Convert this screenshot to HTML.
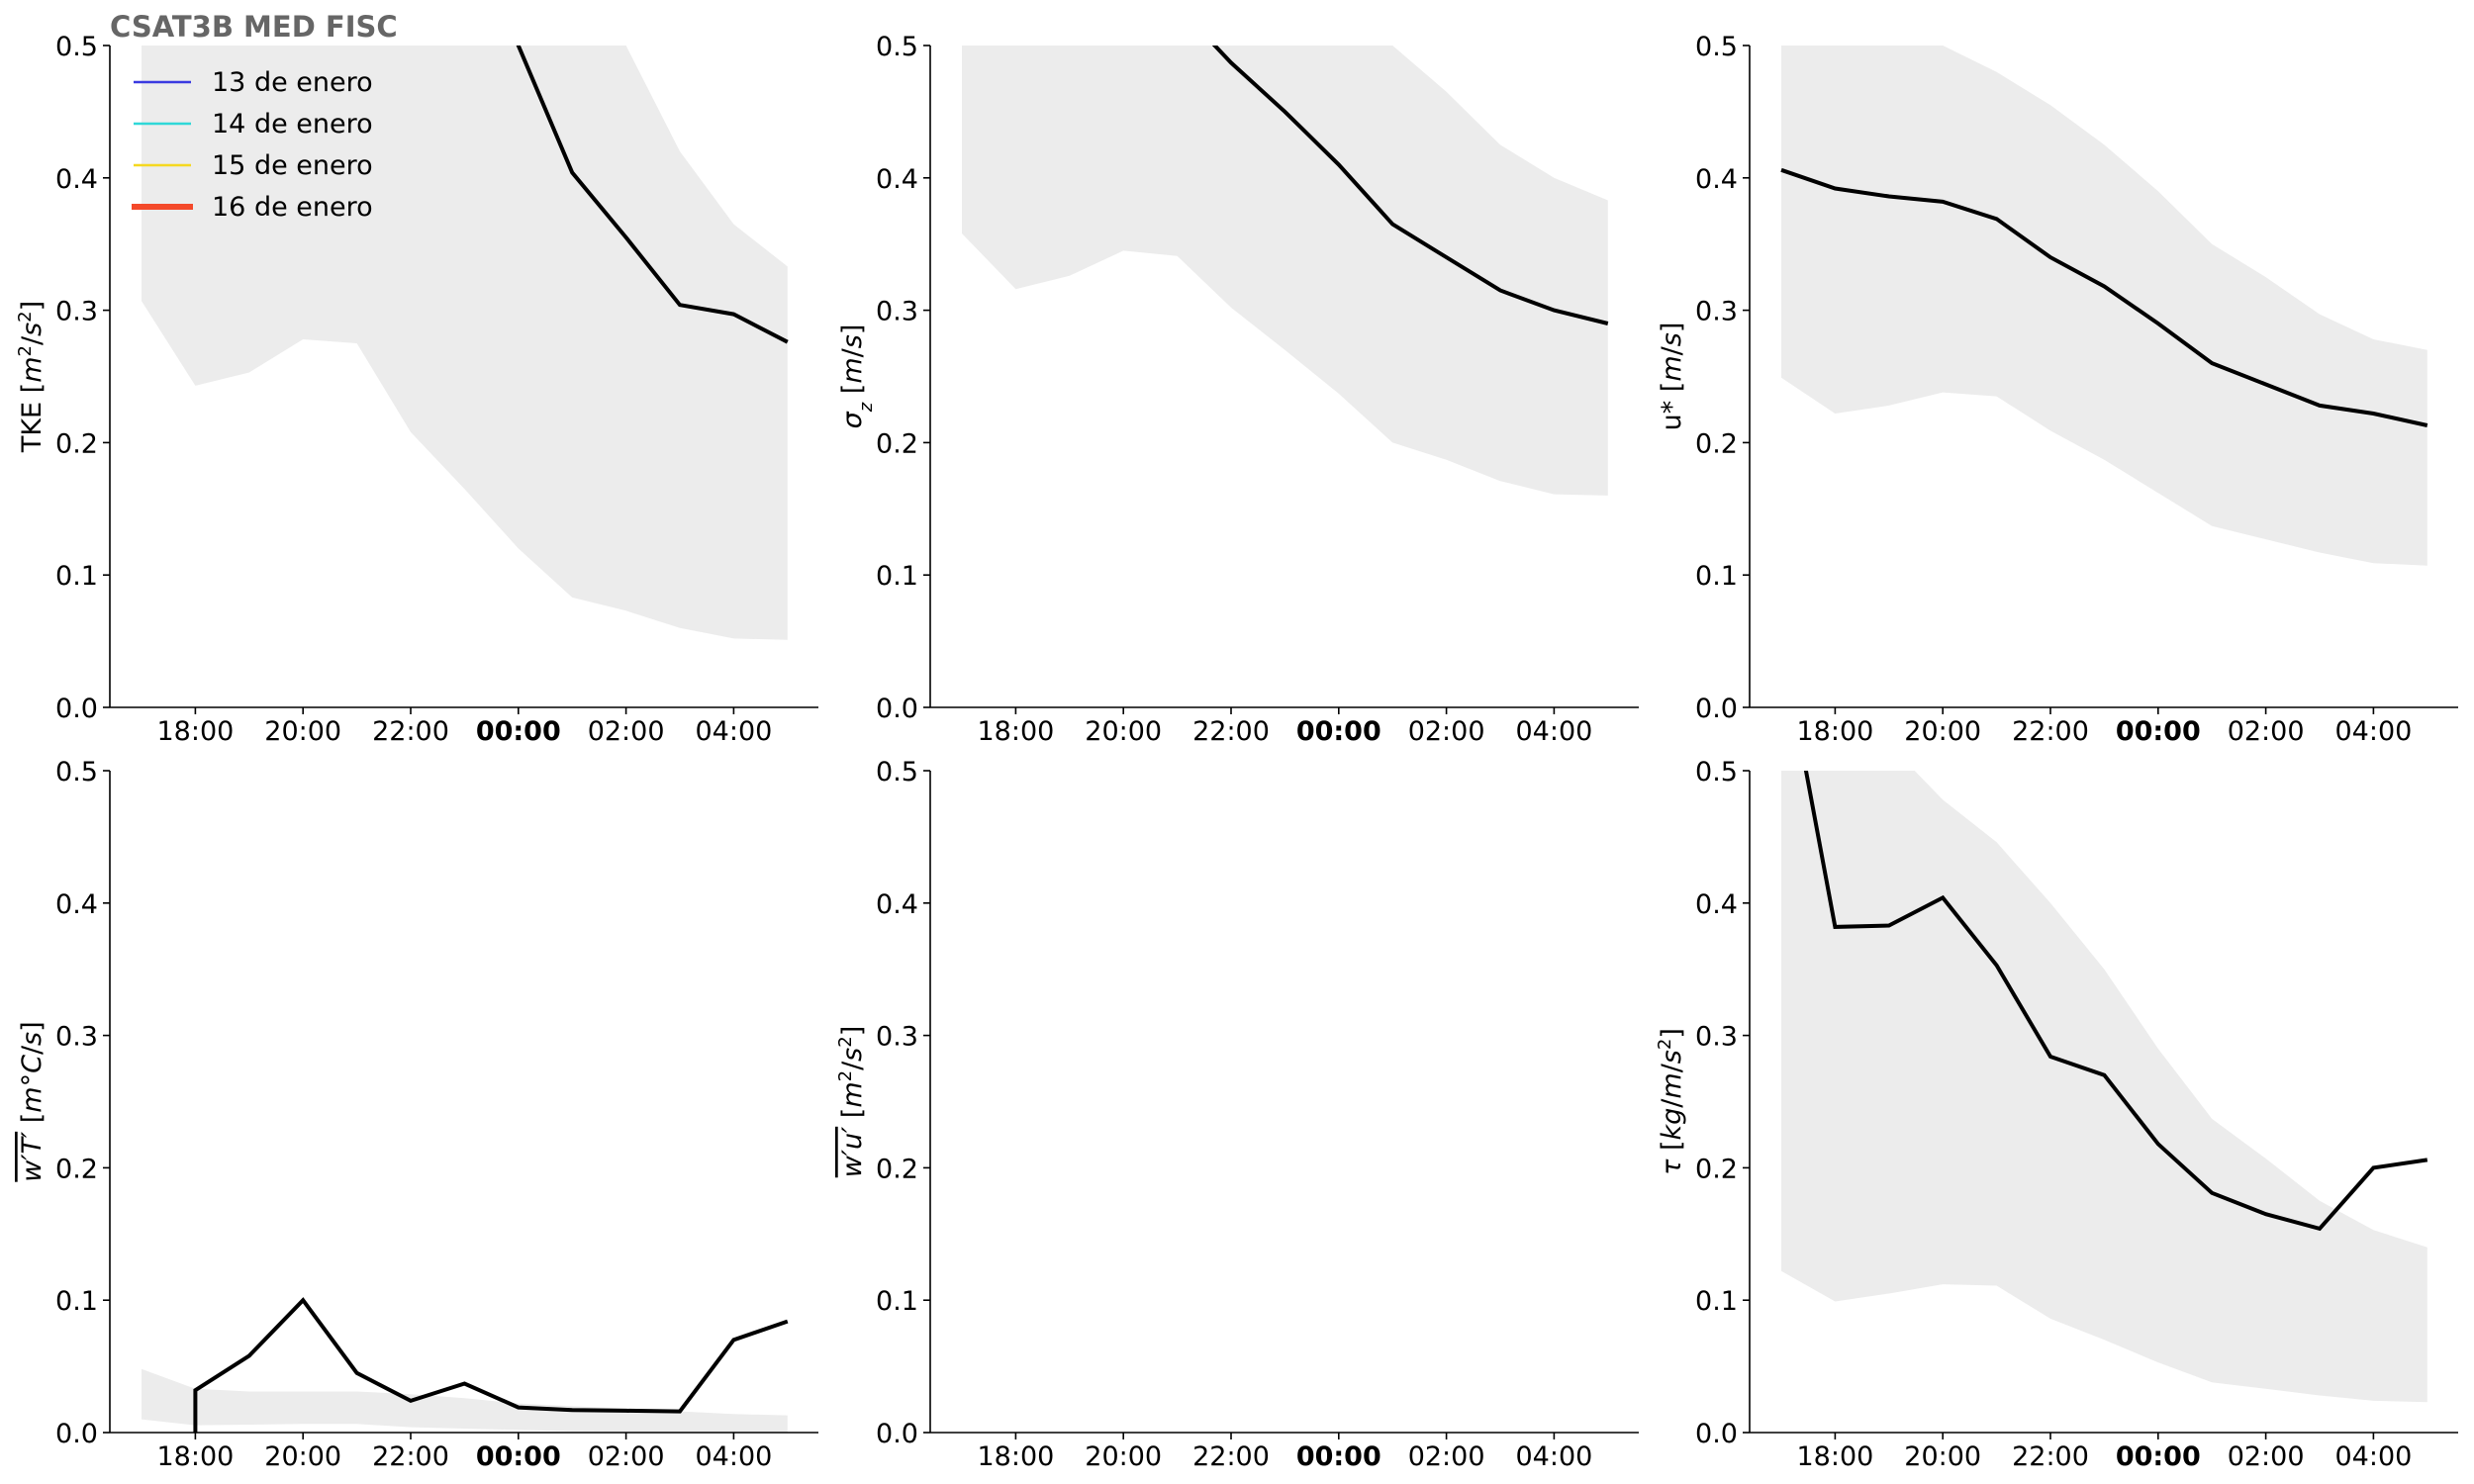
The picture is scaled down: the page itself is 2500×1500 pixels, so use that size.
<!DOCTYPE html>
<html><head><meta charset="utf-8">
<style>
html,body{margin:0;padding:0;background:#fff;}
svg{display:block;font-family:"DejaVu Sans","Liberation Sans",sans-serif;}
</style></head>
<body>
<svg id="chart" width="2500" height="1500" viewBox="0 0 2500 1500" xmlns="http://www.w3.org/2000/svg">
<text x="111" y="37" font-size="29" font-weight="bold" fill="#666">CSAT3B MED FISC</text>
<g id="legend" font-size="27">
 <g><line x1="135" y1="83" x2="193" y2="83" stroke="#3a3ae0" stroke-width="2.5"/><text x="214" y="92">13 de enero</text></g>
 <g><line x1="135" y1="125" x2="193" y2="125" stroke="#2fd8d8" stroke-width="2.5"/><text x="214" y="134">14 de enero</text></g>
 <g><line x1="135" y1="167" x2="193" y2="167" stroke="#f5d820" stroke-width="2.5"/><text x="214" y="176">15 de enero</text></g>
 <g><line x1="133" y1="209" x2="195" y2="209" stroke="#f4492a" stroke-width="6"/><text x="214" y="218">16 de enero</text></g>
</g>
</svg>
<script>
const hours = [17,18,19,20,21,22,23,24,25,26,27,28,29];
const tickHours = [18,20,22,24,26,28];
const tickLabels = ["18:00","20:00","22:00","00:00","02:00","04:00"];
const yTicks = [0,0.1,0.2,0.3,0.4,0.5];

const tkeLine = [1.1,1.0,0.95,0.9,0.8,0.7,0.6,0.5,0.404,0.355,0.304,0.297,0.276];
const tkeLow = [0.307,0.243,0.253,0.278,0.275,0.208,0.165,0.12,0.083,0.073,0.060,0.052,0.051];
const tkeHigh = [0.9,0.9,0.9,0.9,0.9,0.8,0.7,0.6,0.55,0.5,0.42,0.365,0.333];

const szLine = [0.7,0.65,0.6,0.56,0.53,0.487,0.45,0.41,0.365,0.34,0.315,0.30,0.29];
const szLow = [0.358,0.316,0.326,0.345,0.341,0.302,0.27,0.237,0.2,0.187,0.171,0.161,0.16];
const szHigh = [0.7,0.7,0.7,0.7,0.7,0.65,0.6,0.55,0.5,0.465,0.425,0.4,0.383];

const usLine = [0.406,0.392,0.386,0.382,0.369,0.34,0.318,0.29,0.26,0.244,0.228,0.222,0.213];
const usLow = [0.249,0.222,0.228,0.238,0.235,0.209,0.187,0.162,0.137,0.127,0.117,0.109,0.107];
const usHigh = [0.5,0.5,0.5,0.5,0.48,0.455,0.425,0.39,0.35,0.325,0.297,0.278,0.27];

const wtHours = [18,18,19,20,21,22,23,24,25,26,27,28,29];
const wtLine = [-0.01,0.032,0.058,0.1,0.045,0.024,0.037,0.019,0.017,0.0165,0.016,0.07,0.084];
const wtLow = [0.01,0.0055,0.006,0.0065,0.0065,0.004,0.003,0.002,0.001,0.0005,0,0,0];
const wtHigh = [0.048,0.033,0.031,0.031,0.031,0.029,0.026,0.022,0.02,0.018,0.016,0.014,0.013];

const tauLine = [0.6,0.382,0.383,0.404,0.353,0.284,0.27,0.218,0.181,0.165,0.154,0.2,0.206];
const tauLow = [0.122,0.099,0.105,0.112,0.111,0.086,0.07,0.053,0.038,0.033,0.028,0.024,0.023];
const tauHigh = [0.55,0.55,0.52,0.478,0.446,0.4,0.35,0.29,0.237,0.207,0.175,0.153,0.14];

const NS = "http://www.w3.org/2000/svg";
const svg = document.getElementById('chart');
function mk(tag, attrs, parent){const e=document.createElementNS(NS,tag);for(const k in attrs)e.setAttribute(k,attrs[k]);(parent||svg).appendChild(e);return e;}
// label parts: [text, style] style: ''=normal, 'i'=italic, 'sup', 'sub', 'o'=overline italic
function label(parent, parts){
  parts.forEach(([s,st])=>{
    const t = mk('tspan',{},parent);
    if(st==='i') t.setAttribute('font-style','italic');
    if(st==='sup'){t.setAttribute('baseline-shift','super');t.setAttribute('font-size','18');}
    if(st==='sub'){t.setAttribute('baseline-shift','sub');t.setAttribute('font-size','18');t.setAttribute('font-style','italic');}
    if(st==='o'){t.setAttribute('font-style','italic');t.setAttribute('text-decoration','overline');}
    t.textContent = s;
  });
}

const colL = [111, 940, 1768];
const rowT = [46, 779];
const W = 716, H = 669;

const panels = [
 {c:0,r:0,name:'tke',label:[['TKE [',''],['m','i'],['2','sup'],['/',''],['s','i'],['2','sup'],[']','']],x:hours,line:tkeLine,low:tkeLow,high:tkeHigh},
 {c:1,r:0,name:'sigma-z',label:[['σ','i'],['z','sub'],[' [',''],['m','i'],['/',''],['s','i'],[']','']],x:hours,line:szLine,low:szLow,high:szHigh},
 {c:2,r:0,name:'ustar',label:[['u* [',''],['m','i'],['/',''],['s','i'],[']','']],x:hours,line:usLine,low:usLow,high:usHigh},
 {c:0,r:1,name:'wt',label:[['w′T′','o'],[' [',''],['m','i'],['°',''],['C','i'],['/',''],['s','i'],[']','']],x:wtHours,bx:hours,line:wtLine,low:wtLow,high:wtHigh},
 {c:1,r:1,name:'wu',label:[['w′u′','o'],[' [',''],['m','i'],['2','sup'],['/',''],['s','i'],['2','sup'],[']','']],x:hours,line:null,low:null,high:null},
 {c:2,r:1,name:'tau',label:[['τ','i'],[' [',''],['kg','i'],['/',''],['m','i'],['/',''],['s','i'],['2','sup'],[']','']],x:hours,line:tauLine,low:tauLow,high:tauHigh}
];

panels.forEach((p,i)=>{
  const L = colL[p.c], T = rowT[p.r], B = T+H;
  const xs = h => L + 32 + (h-17)*54.4;
  const ys = v => B - v/0.5*H;
  const g = mk('g',{});
  
  
  const cp = mk('clipPath',{id:'clip'+i},g);
  mk('rect',{x:L,y:T,width:W,height:H},cp);
  const plot = mk('g',{'clip-path':'url(#clip'+i+')'},g);
  if(p.low){
    const bx = p.bx||p.x;
    let d='';
    bx.forEach((h,k)=>{d+=(k?'L':'M')+xs(h).toFixed(1)+','+ys(p.high[k]).toFixed(1);});
    for(let k=bx.length-1;k>=0;k--) d+='L'+xs(bx[k]).toFixed(1)+','+ys(p.low[k]).toFixed(1);
    const band = mk('path',{d:d+'Z',fill:'#ececec'},plot);
    
    
  }
  if(p.line){
    const pts = p.x.map((h,k)=>xs(h).toFixed(1)+','+ys(p.line[k]).toFixed(1)).join(' ');
    const ln = mk('polyline',{points:pts,fill:'none',stroke:'#000','stroke-width':4,'stroke-linejoin':'miter'},plot);
    
    
  }
  const ax = mk('g',{stroke:'#000','stroke-width':1.6},g);
  
  
  mk('line',{x1:L,y1:T,x2:L,y2:B},ax);
  mk('line',{x1:L,y1:B,x2:L+W,y2:B},ax);
  yTicks.forEach(v=>{
    mk('line',{x1:L-7,y1:ys(v),x2:L,y2:ys(v)},ax);
    const t = mk('text',{x:L-12,y:ys(v)+10,'text-anchor':'end','font-size':27},g);
    
    
    t.textContent = v.toFixed(1);
  });
  tickHours.forEach((h,k)=>{
    mk('line',{x1:xs(h),y1:B,x2:xs(h),y2:B+7},ax);
    const t = mk('text',{x:xs(h),y:B+33,'text-anchor':'middle','font-size':27},g);
    if(k===3) t.setAttribute('font-weight','bold');
    
    
    t.textContent = tickLabels[k];
  });
  const yl = mk('text',{transform:'translate('+(L-70)+','+(T+H/2)+') rotate(-90)','text-anchor':'middle','font-size':27},g);
  
  
  label(yl, p.label);
});
svg.appendChild(document.getElementById('legend'));
</script>
</body></html>
